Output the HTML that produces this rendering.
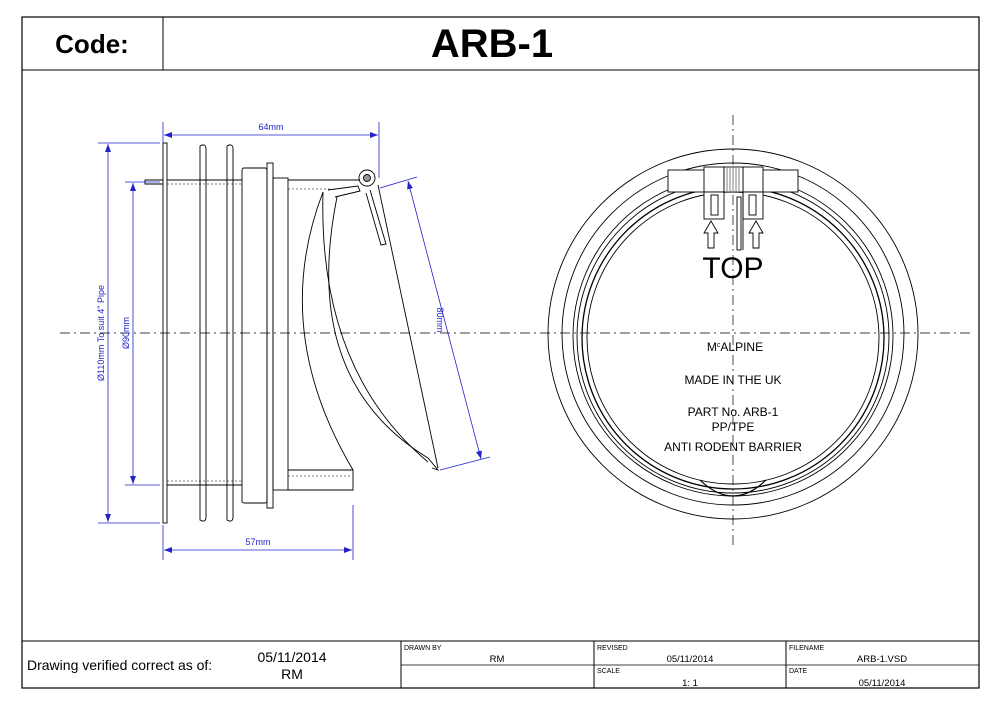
<!DOCTYPE html>
<html><head><style>
html,body{margin:0;padding:0;background:#fff;}
svg{display:block;font-family:"Liberation Sans",Arial,sans-serif;}
</style></head><body>
<svg width="1000" height="706" viewBox="0 0 1000 706" xmlns="http://www.w3.org/2000/svg">
<defs>
<marker id="a" markerWidth="8" markerHeight="6" refX="8" refY="3" orient="auto-start-reverse" markerUnits="userSpaceOnUse"><path d="M0,0 L8,3 L0,6 z" fill="#2222cc"/></marker>
</defs>
<rect x="22" y="17" width="957" height="671" fill="none" stroke="#000" stroke-width="1.2"/>
<line x1="22" y1="70" x2="979" y2="70" stroke="#000"/>
<line x1="163" y1="17" x2="163" y2="70" stroke="#000"/>
<text x="92" y="53" font-size="26" font-weight="bold" text-anchor="middle">Code:</text>
<text x="492" y="57" font-size="40" font-weight="bold" text-anchor="middle">ARB-1</text>

<!-- footer -->
<line x1="22" y1="641" x2="979" y2="641" stroke="#000"/>
<line x1="401" y1="641" x2="401" y2="688" stroke="#000"/>
<line x1="594" y1="641" x2="594" y2="688" stroke="#000"/>
<line x1="786" y1="641" x2="786" y2="688" stroke="#000"/>
<line x1="401" y1="665" x2="979" y2="665" stroke="#000" stroke-width="0.8"/>
<text x="27" y="670" font-size="14">Drawing verified  correct as of:</text>
<text x="292" y="662" font-size="14" text-anchor="middle">05/11/2014</text>
<text x="292" y="679" font-size="14" text-anchor="middle">RM</text>
<g font-size="7"><text x="404" y="650">DRAWN BY</text><text x="597" y="650">REVISED</text><text x="789" y="650">FILENAME</text><text x="597" y="673">SCALE</text><text x="789" y="673">DATE</text></g>
<g font-size="9.5" text-anchor="middle"><text x="497" y="662">RM</text><text x="690" y="662">05/11/2014</text><text x="882" y="662">ARB-1.VSD</text><text x="690" y="686">1: 1</text><text x="882" y="686">05/11/2014</text></g>

<!-- centerlines -->
<line x1="60" y1="333" x2="970" y2="333" stroke="#000" stroke-width="0.7" stroke-dasharray="10,4,2,4"/>
<line x1="733" y1="115" x2="733" y2="545" stroke="#000" stroke-width="0.7" stroke-dasharray="10,4,2,4"/>

<!-- left drawing -->
<g fill="none" stroke="#000" stroke-width="0.9">
<rect x="163" y="143" width="4" height="380"/>
<path d="M163,180 H145 V184 H163"/>
<path d="M200,146 Q205,143 206,148 V518 Q205,523 200,520 Z"/>
<path d="M227,146 Q232,143 233,148 V518 Q232,523 227,520 Z"/>
<line x1="167" y1="180" x2="242" y2="180"/><line x1="167" y1="485" x2="242" y2="485"/>
<line x1="167" y1="184" x2="242" y2="184" stroke-dasharray="2,2" stroke-width="0.6"/>
<line x1="167" y1="481" x2="242" y2="481" stroke-dasharray="2,2" stroke-width="0.6"/>
<rect x="242" y="168" width="25" height="335" rx="2"/>
<rect x="267" y="163" width="6" height="345"/>
<rect x="273" y="178" width="15" height="312"/>
<path d="M288,180 H360 M288,490 H353 V470 H288"/>
<line x1="288" y1="189" x2="330" y2="189" stroke-dasharray="2,2" stroke-width="0.6"/>
<line x1="288" y1="476" x2="350" y2="476" stroke-dasharray="2,2" stroke-width="0.6"/>
<path d="M328,190 L358,186 L360,191 L335,197"/>
<path d="M323,192 Q270,330 353,470"/>
<path d="M337,197 Q300,380 428,458 L438,470 L432,468"/>
<path d="M323,192 Q318,370 428,462"/>
<path d="M378,185 L438,468"/>
<path d="M370,190 L386,244 L381,245 L366,193"/>
<circle cx="367" cy="178" r="8"/>
<circle cx="367" cy="178" r="3.5" fill="#999"/>
</g>
<!-- dimensions -->
<g stroke="#2222cc" stroke-width="0.8" fill="none">
<line x1="163" y1="122" x2="163" y2="143"/><line x1="379" y1="122" x2="379" y2="178"/>
<line x1="164" y1="135" x2="378" y2="135" marker-start="url(#a)" marker-end="url(#a)"/>
<line x1="98" y1="143" x2="160" y2="143"/><line x1="98" y1="523" x2="160" y2="523"/>
<line x1="108" y1="144" x2="108" y2="522" marker-start="url(#a)" marker-end="url(#a)"/>
<line x1="125" y1="182" x2="160" y2="182"/><line x1="125" y1="485" x2="160" y2="485"/>
<line x1="133" y1="183" x2="133" y2="484" marker-start="url(#a)" marker-end="url(#a)"/>
<line x1="163" y1="525" x2="163" y2="560"/><line x1="353" y1="505" x2="353" y2="560"/>
<line x1="164" y1="550" x2="352" y2="550" marker-start="url(#a)" marker-end="url(#a)"/>
<line x1="380" y1="188" x2="417" y2="177"/><line x1="440" y1="470" x2="490" y2="457"/>
<line x1="408" y1="181" x2="481" y2="459" marker-start="url(#a)" marker-end="url(#a)"/>
</g>
<g fill="#2222cc" font-size="9">
<text x="271" y="130" text-anchor="middle">64mm</text>
<text x="258" y="545" text-anchor="middle">57mm</text>
<text transform="translate(104,333) rotate(-90)" text-anchor="middle">Ø110mm To suit 4" Pipe</text>
<text transform="translate(129,333) rotate(-90)" text-anchor="middle">Ø90mm</text>
<text transform="translate(437,320) rotate(90)" text-anchor="middle">80mm</text>
</g>

<!-- right drawing -->
<g fill="none" stroke="#000" stroke-width="0.9">
<circle cx="733" cy="334" r="185"/>
<circle cx="733" cy="334" r="171"/>
<circle cx="733" cy="336" r="160"/>
<circle cx="733" cy="337" r="156"/>
<circle cx="733" cy="338" r="151" stroke-width="1.3"/>
<circle cx="733" cy="338" r="146"/>
<path d="M700,480 Q733,512 766,480" stroke-width="1.2"/>
<rect x="668" y="170" width="130" height="22" fill="#fff"/>
<rect x="704" y="167" width="20" height="25" fill="#fff"/>
<rect x="743" y="167" width="20" height="25" fill="#fff"/>
<rect x="724" y="167" width="19" height="25" fill="#fff"/>
<path d="M727,168V191 M730,168V191 M733,168V191 M736,168V191 M739,168V191" stroke-width="0.5"/>
<rect x="704" y="192" width="20" height="27" fill="#fff"/><rect x="711" y="195" width="7" height="20"/>
<rect x="743" y="192" width="20" height="27" fill="#fff"/><rect x="749" y="195" width="7" height="20"/>
<rect x="737" y="197" width="4" height="53"/>
<line x1="743" y1="191" x2="743" y2="250"/>
<path d="M711,221 L704,233 H708 V248 H714 V233 H718 Z" fill="#fff"/>
<path d="M756,221 L749,233 H753 V248 H759 V233 H763 Z" fill="#fff"/>
</g>
<text x="733" y="278" font-size="30" text-anchor="middle">TOP</text>
<g font-size="12" text-anchor="middle">
<text x="735" y="351">M<tspan font-size="7" dy="-4">c</tspan><tspan dy="4">ALPINE</tspan></text>
<text x="733" y="384">MADE IN THE UK</text>
<text x="733" y="416">PART No. ARB-1</text>
<text x="733" y="431">PP/TPE</text>
<text x="733" y="451">ANTI RODENT BARRIER</text>
</g>
</svg>
</body></html>
